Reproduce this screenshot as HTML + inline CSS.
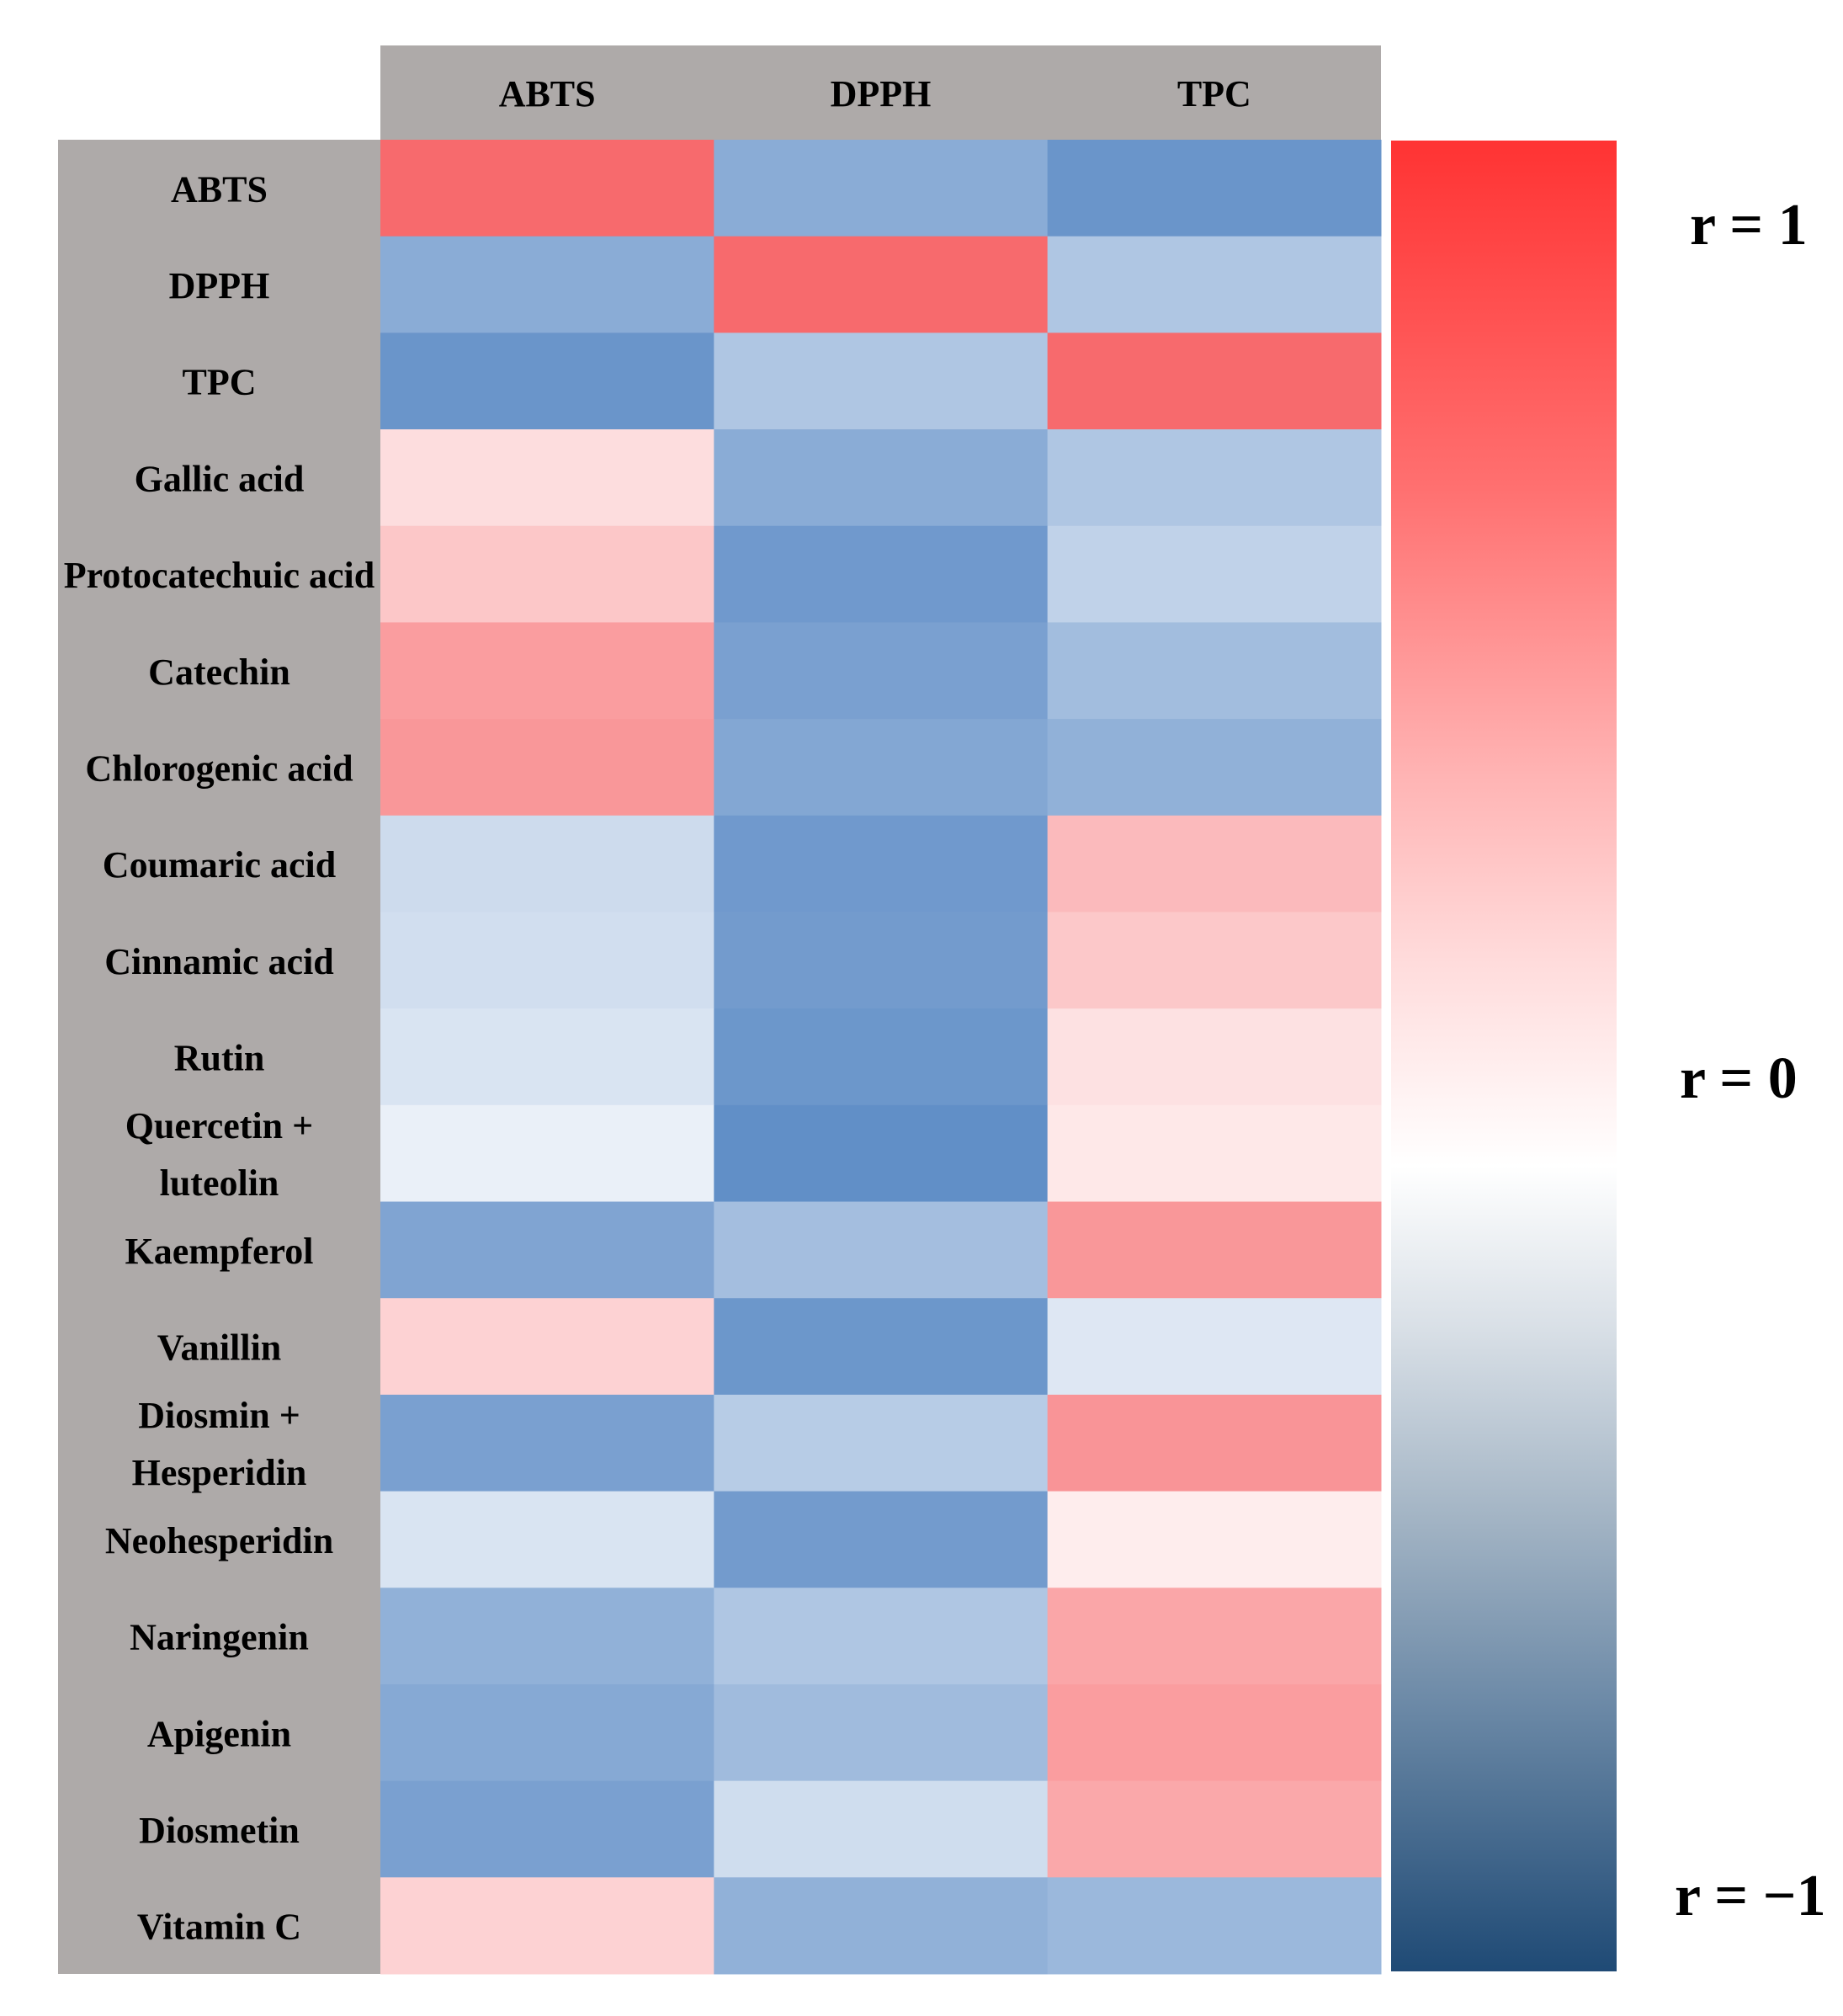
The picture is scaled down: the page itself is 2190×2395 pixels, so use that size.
<!DOCTYPE html>
<html><head><meta charset="utf-8"><style>
html,body{margin:0;padding:0;background:#fff;width:2190px;height:2395px;overflow:hidden}
svg{display:block}
text{font-family:"Liberation Serif",serif;font-weight:bold;fill:#000}
</style></head><body>
<svg id="chart" width="2190" height="2395" viewBox="0 0 2190 2395" xmlns="http://www.w3.org/2000/svg">
<defs>
<linearGradient id="cbar" x1="0" y1="0" x2="0" y2="1">
<stop offset="0" stop-color="#FF3333"/>
<stop offset="0.19" stop-color="#FF7070"/>
<stop offset="0.35" stop-color="#FFB5B5"/>
<stop offset="0.45" stop-color="#FFDCDC"/>
<stop offset="0.56" stop-color="#FFFFFF"/>
<stop offset="0.65" stop-color="#D8DFE6"/>
<stop offset="0.75" stop-color="#A4B5C5"/>
<stop offset="0.85" stop-color="#6E8BA8"/>
<stop offset="1" stop-color="#1F4A75"/>
</linearGradient>
</defs>
<g id="cells"></g>
<rect x="1653" y="167" width="268" height="2175" fill="url(#cbar)"/>
<text x="2008" y="290" font-size="70">r = 1</text>
<text x="1996" y="1304" font-size="70">r = 0</text>
<text x="1990" y="2275" font-size="70">r = −1</text>
</svg>
<script>
const columns = ["ABTS","DPPH","TPC"];
const rows = ["ABTS","DPPH","TPC","Gallic acid","Protocatechuic acid","Catechin","Chlorogenic acid","Coumaric acid","Cinnamic acid","Rutin","Quercetin +|luteolin","Kaempferol","Vanillin","Diosmin +|Hesperidin","Neohesperidin","Naringenin","Apigenin","Diosmetin","Vitamin C"];
const abtsValues = [1,-0.6,-0.85,0.12,0.25,0.55,0.6,-0.18,-0.16,-0.12,-0.05,-0.68,0.18,-0.72,-0.12,-0.55,-0.63,-0.72,0.18];
const dpphValues = [-0.6,1,-0.35,-0.6,-0.8,-0.72,-0.65,-0.8,-0.78,-0.83,-0.92,-0.42,-0.83,-0.3,-0.78,-0.35,-0.45,-0.17,-0.55];
const tpcValues = [-0.85,-0.35,1,-0.35,-0.25,-0.43,-0.55,0.33,0.24,0.1,0.07,0.6,-0.1,0.62,0.05,0.48,0.55,0.46,-0.48];
const series = [abtsValues, dpphValues, tpcValues];

const NS = "http://www.w3.org/2000/svg";
const g = document.getElementById("cells");
const colX0 = 452, colX1 = 1641, rowY0 = 166, rowY1 = 2345, labelX0 = 69;
const headerY0 = 54;
const colW = (colX1 - colX0) / columns.length;
const rowH = (rowY1 - rowY0) / rows.length;
const xPos = i => colX0 + i * colW;
const yPos = j => rowY0 + j * rowH;
function color(v) {
  const pos = [247,106,109], neg = [88,136,196];
  const t = Math.pow(Math.min(1, Math.abs(v)), 0.7), c = v >= 0 ? pos : neg;
  const m = c.map(k => Math.round(255 + (k - 255) * t));
  return "rgb(" + m.join(",") + ")";
}
function el(tag, attrs) {
  const e = document.createElementNS(NS, tag);
  for (const k in attrs) e.setAttribute(k, attrs[k]);
  return e;
}
const hb = el("rect", {x: colX0, y: headerY0, width: colX1 - colX0, height: rowY0 - headerY0, fill: "#AEAAA9"});


g.appendChild(hb);
const rb = el("rect", {x: labelX0, y: rowY0, width: colX0 - labelX0, height: rowY1 - rowY0, fill: "#AEAAA9"});


g.appendChild(rb);
columns.forEach((c, i) => {
  const t = el("text", {x: xPos(i) + colW / 2, y: 126, "font-size": 44, "text-anchor": "middle"});
  t.textContent = c;
  
  
  g.appendChild(t);
});
rows.forEach((r, j) => {
  const cy = yPos(j) + rowH / 2;
  const lines = r.split("|");
  lines.forEach((ln, k) => {
    const y = lines.length === 1 ? cy + 16 : (k === 0 ? cy - 18 : cy + 50);
    const t = el("text", {x: (labelX0 + colX0) / 2, y: y, "font-size": 44, "text-anchor": "middle"});
    t.textContent = ln;
    
    
    g.appendChild(t);
  });
  series.forEach((s, i) => {
    const rc = el("rect", {x: xPos(i), y: yPos(j), width: colW + 0.5, height: rowH + 0.5, fill: color(s[j])});
    
    
    g.appendChild(rc);
  });
});
</script>
</body></html>
